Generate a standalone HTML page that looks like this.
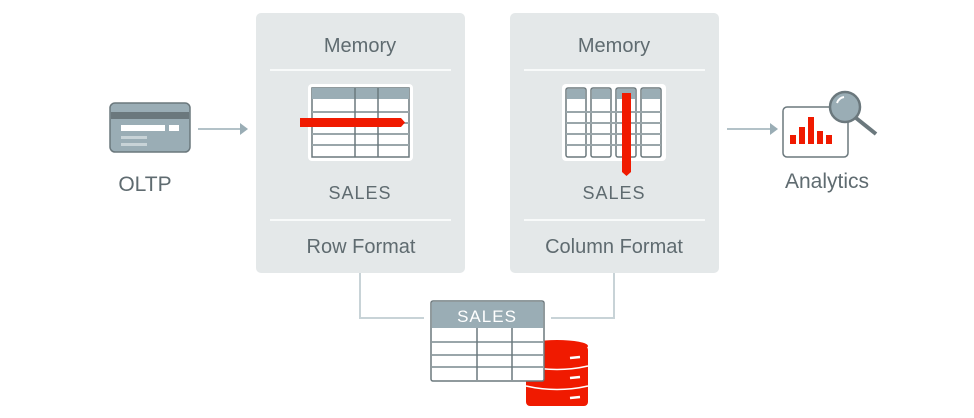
<!DOCTYPE html>
<html><head><style>
body{margin:0;background:#fff;}
svg{display:block;}
text{font-family:"Liberation Sans",sans-serif;fill:#5f6b70;}
</style></head><body>
<svg width="974" height="418" viewBox="0 0 974 418" xmlns="http://www.w3.org/2000/svg">
<!-- panels -->
<rect x="256" y="13" width="209" height="260" rx="5" fill="#e4e8e9"/>
<rect x="510" y="13" width="209" height="260" rx="5" fill="#e4e8e9"/>
<g stroke="#fff" stroke-width="1.5">
<line x1="270" y1="70" x2="451" y2="70"/><line x1="270" y1="220" x2="451" y2="220"/>
<line x1="524" y1="70" x2="705" y2="70"/><line x1="524" y1="220" x2="705" y2="220"/>
</g>
<text x="360" y="52" font-size="20" text-anchor="middle">Memory</text>
<text x="614" y="52" font-size="20" text-anchor="middle">Memory</text>
<text x="360" y="199" font-size="18" text-anchor="middle" letter-spacing="1">SALES</text>
<text x="614" y="199" font-size="18" text-anchor="middle" letter-spacing="1">SALES</text>
<text x="361" y="253" font-size="20" text-anchor="middle">Row Format</text>
<text x="614" y="253" font-size="20" text-anchor="middle">Column Format</text>
<!-- row table -->
<rect x="308" y="84" width="105" height="77" rx="4" fill="#fff"/>
<rect x="312" y="88" width="97" height="69" fill="#fff" stroke="#6b787d" stroke-width="1.5"/>
<rect x="312" y="88" width="97" height="11" fill="#9aadb5"/>
<g stroke="#9aa6aa" stroke-width="2"><line x1="312" y1="112" x2="409" y2="112"/><line x1="312" y1="123" x2="409" y2="123"/><line x1="312" y1="134" x2="409" y2="134"/><line x1="312" y1="145" x2="409" y2="145"/></g>
<g stroke="#6b787d" stroke-width="1.5"><line x1="355" y1="88" x2="355" y2="157"/><line x1="378" y1="88" x2="378" y2="157"/></g>
<path d="M300 118 H401 L405 122.5 L401 127 H300 Z" fill="#f01a00"/>
<!-- column table -->
<rect x="562" y="84" width="104" height="77" rx="4" fill="#fff"/>
<g fill="#fff" stroke="#6b787d" stroke-width="1.5">
<rect x="566" y="88" width="20" height="69" rx="2"/><rect x="591" y="88" width="20" height="69" rx="2"/><rect x="616" y="88" width="20" height="69" rx="2"/><rect x="641" y="88" width="20" height="69" rx="2"/></g>
<g fill="#9aadb5"><rect x="567" y="89" width="18" height="10"/><rect x="592" y="89" width="18" height="10"/><rect x="617" y="89" width="18" height="10"/><rect x="642" y="89" width="18" height="10"/></g>
<g stroke="#9aa6aa" stroke-width="2"><line x1="566" y1="112" x2="661" y2="112"/><line x1="566" y1="123" x2="661" y2="123"/><line x1="566" y1="134" x2="661" y2="134"/><line x1="566" y1="145" x2="661" y2="145"/></g>
<path d="M622 93 H631 V172 L626.5 176 L622 172 Z" fill="#f01a00"/>
<!-- OLTP -->
<rect x="110" y="103" width="80" height="49" rx="5" fill="#9aadb5" stroke="#6b787d" stroke-width="1.5"/>
<rect x="111" y="112" width="78" height="7" fill="#6b787d"/>
<rect x="121" y="125" width="44" height="6" fill="#fff"/><rect x="169" y="125" width="10" height="6" fill="#fff"/>
<rect x="121" y="136" width="26" height="3" fill="#c8d3d7"/><rect x="121" y="143" width="26" height="3" fill="#c8d3d7"/>
<text x="145" y="191" font-size="21" text-anchor="middle">OLTP</text>
<g stroke="#9aadb5" stroke-width="1.5"><line x1="198" y1="129" x2="241" y2="129"/><line x1="727" y1="129" x2="771" y2="129"/></g>
<path d="M240 123 L248 129 L240 135 Z" fill="#9aadb5"/>
<path d="M770 123 L778 129 L770 135 Z" fill="#9aadb5"/>
<!-- Analytics -->
<rect x="783" y="107" width="65" height="50" rx="4" fill="#fff" stroke="#6b787d" stroke-width="1.5"/>
<g fill="#f01a00"><rect x="790" y="135" width="6" height="9"/><rect x="799" y="127" width="6" height="17"/><rect x="808" y="117" width="6" height="27"/><rect x="817" y="131" width="6" height="13"/><rect x="826" y="135" width="6" height="9"/></g>
<line x1="856" y1="118" x2="876" y2="134" stroke="#6b787d" stroke-width="4"/>
<circle cx="845" cy="107" r="15" fill="#9aadb5" stroke="#6b787d" stroke-width="2.5"/>
<path d="M837 103 A9 9 0 0 1 844 97" stroke="#fff" stroke-width="2" fill="none"/>
<text x="827" y="188" font-size="21" text-anchor="middle">Analytics</text>
<!-- bottom connectors -->
<g stroke="#c8d3d7" stroke-width="2" fill="none"><path d="M360 273 V318 H424"/><path d="M614 273 V318 H551"/></g>
<!-- database -->
<g fill="#f01a00">
<rect x="526" y="346" width="62" height="60" rx="4"/>
<ellipse cx="557" cy="346" rx="31" ry="6"/>
</g>
<g stroke="#fff" stroke-width="1.5" fill="none"><path d="M526 366 Q557 373 588 366"/><path d="M526 386 Q557 393 588 386"/></g>
<g stroke="#fff" stroke-width="2.5"><line x1="570" y1="358" x2="580" y2="357"/><line x1="570" y1="378" x2="580" y2="377"/><line x1="570" y1="398" x2="580" y2="397"/></g>
<!-- bottom table -->
<rect x="431" y="301" width="113" height="80" rx="2" fill="#fff" stroke="#6b787d" stroke-width="1.5"/>
<rect x="432" y="302" width="111" height="26" fill="#9aadb5"/>
<text x="487" y="322" font-size="17" text-anchor="middle" letter-spacing="1" style="fill:#fff">SALES</text>
<g stroke="#9aa6aa" stroke-width="2"><line x1="432" y1="342" x2="543" y2="342"/><line x1="432" y1="355" x2="543" y2="355"/><line x1="432" y1="367" x2="543" y2="367"/></g>
<g stroke="#6b787d" stroke-width="1.5"><line x1="477" y1="328" x2="477" y2="380"/><line x1="512" y1="328" x2="512" y2="380"/></g>
</svg>
</body></html>
